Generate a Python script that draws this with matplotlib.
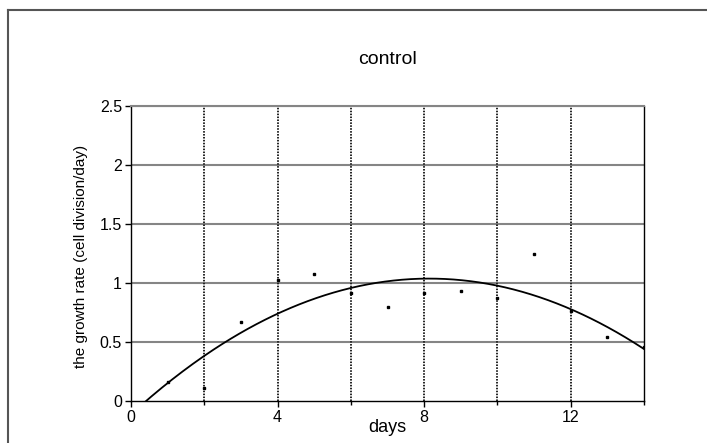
import numpy as np
import matplotlib.pyplot as plt
from matplotlib.lines import Line2D

plt.rcParams['font.family'] = ['Liberation Sans', 'DejaVu Sans']

# daily growth rate measurements, control culture
days = np.arange(1, 15)
growth_rate = [0.16, 0.11, 0.67, 1.02, 1.07, 0.91, 0.79,
               0.91, 0.93, 0.87, 1.24, 0.76, 0.54, 0.455]

x_major = [0, 4, 8, 12]
x_minor = [2, 6, 10, 14]
y_ticks = [0, 0.5, 1, 1.5, 2, 2.5]
y_tick_labels = ['0', '0.5', '1', '1.5', '2', '2.5']

fig = plt.figure(figsize=(7.07, 4.43), dpi=100)
ax = fig.add_axes([0.1853, 0.0955, 0.7256, 0.6659])

# horizontal gridlines, solid gray
for yv in y_ticks[1:]:
    ax.axhline(yv, color='#858585', lw=1.5, zorder=1)
# vertical gridlines, dotted black
for xv in x_major[1:] + x_minor[:-1]:
    ax.axvline(xv, color='#222222', lw=1.4, ls=(0, (0.8, 0.7)), zorder=1)

# second order polynomial trendline
coef = np.polyfit(days, growth_rate, 2)
xs = np.linspace(0, 14, 300)
ax.plot(xs, np.polyval(coef, xs), color='black', lw=1.3, zorder=3)

ax.plot(days, growth_rate, ls='none', marker='s', ms=2.0,
        color='black', zorder=4)

ax.set_xlim(0, 14)
ax.set_ylim(0, 2.5)
ax.set_xticks(x_major)
ax.set_xticks(x_minor, minor=True)
ax.set_yticks(y_ticks)
ax.set_yticklabels(y_tick_labels)
ax.tick_params(axis='both', labelsize=11.5, length=4, width=1,
               direction='out', pad=2.5, colors='black')
ax.tick_params(axis='x', which='minor', length=3, width=1)

for side in ('left', 'bottom', 'right'):
    ax.spines[side].set_color('black')
    ax.spines[side].set_linewidth(1.0)
ax.spines['top'].set_color('#858585')
ax.spines['top'].set_linewidth(1.5)

fig.text(0.548, 1 - 59 / 443, 'control', ha='center', va='center',
         fontsize=14)
fig.text(0.548, 1 - 427 / 443, 'days', ha='center', va='center',
         fontsize=13)
fig.text(81 / 707, 1 - 256 / 443, 'the growth rate (cell division/day)',
         ha='center', va='center', rotation=90, fontsize=11)

# outer chart border (left and top edges)
fig.add_artist(Line2D([8 / 707, 8 / 707], [0, 1 - 9.5 / 443],
                      color='#555555', lw=1.5))
fig.add_artist(Line2D([8 / 707, 1], [1 - 9.5 / 443, 1 - 9.5 / 443],
                      color='#555555', lw=1.5))

fig.savefig('out.png', dpi=100)
